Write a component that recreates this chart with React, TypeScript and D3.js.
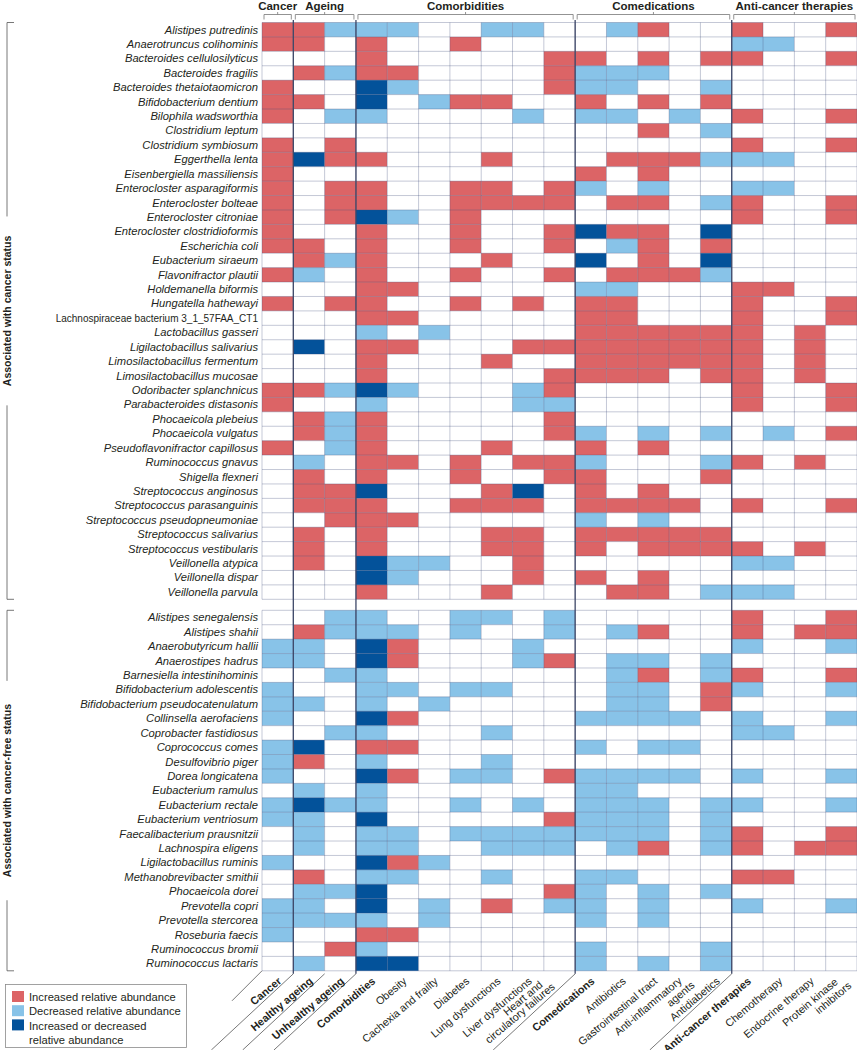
import React from 'react';
import * as d3 from 'd3';

const columns = [
  'Cancer', 'Healthy ageing', 'Unhealthy ageing', 'Comorbidities', 'Obesity',
  'Cachexia and frailty', 'Diabetes', 'Lung dysfunctions', 'Liver dysfunctions',
  'Heart and circulatory failures', 'Comedications', 'Antibiotics',
  'Gastrointestinal tract', 'Anti-inflammatory agents', 'Antidiabetics',
  'Anti-cancer therapies', 'Chemotherapy', 'Endocrine therapy', 'Protein kinase inhibitors',
];
const columnLabelLines: string[][] = [
  ['Cancer'], ['Healthy ageing'], ['Unhealthy ageing'], ['Comorbidities'], ['Obesity'],
  ['Cachexia and frailty'], ['Diabetes'], ['Lung dysfunctions'], ['Liver dysfunctions'],
  ['Heart and', 'circulatory failures'], ['Comedications'], ['Antibiotics'],
  ['Gastrointestinal tract'], ['Anti-inflammatory', 'agents'], ['Antidiabetics'],
  ['Anti-cancer therapies'], ['Chemotherapy'], ['Endocrine therapy'], ['Protein kinase', 'inhibitors'],
];
const boldColumns = ['Cancer', 'Healthy ageing', 'Unhealthy ageing', 'Comorbidities', 'Comedications', 'Anti-cancer therapies'];
const headerGroups = [
  { label: 'Cancer', first: 'Cancer', last: 'Cancer' },
  { label: 'Ageing', first: 'Healthy ageing', last: 'Unhealthy ageing' },
  { label: 'Comorbidities', first: 'Comorbidities', last: 'Heart and circulatory failures' },
  { label: 'Comedications', first: 'Comedications', last: 'Antidiabetics' },
  { label: 'Anti-cancer therapies', first: 'Anti-cancer therapies', last: 'Protein kinase inhibitors' },
];
const dividerColumns = ['Healthy ageing', 'Comorbidities', 'Comedications', 'Anti-cancer therapies'];
const diagonalColumns = ['Healthy ageing', 'Unhealthy ageing', 'Comorbidities', 'Comedications', 'Anti-cancer therapies'];

// codes: 0 = none, r = increased, b = decreased, d = increased or decreased
const cancerSpecies = [
  'Alistipes putredinis', 'Anaerotruncus colihominis', 'Bacteroides cellulosilyticus',
  'Bacteroides fragilis', 'Bacteroides thetaiotaomicron', 'Bifidobacterium dentium',
  'Bilophila wadsworthia', 'Clostridium leptum', 'Clostridium symbiosum', 'Eggerthella lenta',
  'Eisenbergiella massiliensis', 'Enterocloster asparagiformis', 'Enterocloster bolteae',
  'Enterocloster citroniae', 'Enterocloster clostridioformis', 'Escherichia coli',
  'Eubacterium siraeum', 'Flavonifractor plautii', 'Holdemanella biformis', 'Hungatella hathewayi',
  'Lachnospiraceae bacterium 3_1_57FAA_CT1', 'Lactobacillus gasseri', 'Ligilactobacillus salivarius',
  'Limosilactobacillus fermentum', 'Limosilactobacillus mucosae', 'Odoribacter splanchnicus',
  'Parabacteroides distasonis', 'Phocaeicola plebeius', 'Phocaeicola vulgatus',
  'Pseudoflavonifractor capillosus', 'Ruminococcus gnavus', 'Shigella flexneri',
  'Streptococcus anginosus', 'Streptococcus parasanguinis', 'Streptococcus pseudopneumoniae',
  'Streptococcus salivarius', 'Streptococcus vestibularis', 'Veillonella atypica',
  'Veillonella dispar', 'Veillonella parvula',
];
const cancerProfiles = [
  'rrbbb00bb00br00r00r',
  'rr0r00r00000000bb00',
  '000r00000rr0r0rr00r',
  '0rbrr0000rbbb000000',
  'r00db0000rbb00b0000',
  'rr0d0brr00r0r0r0000',
  'r0bb0000b0bb0b0r00r',
  '000000000000r0b0000',
  'r0r000000000000r00r',
  'rdrr000r000rrrbbb00',
  'r000000000r0r000000',
  'r0rr00rr0rb0b00bb00',
  'r0rr00rrrr0rr0br00r',
  'r0rdb0r00000000r00r',
  'r00r00r00rdrr0d0000',
  'rr0r00r00r0br0r0000',
  '0rbr000r00d0r0d0000',
  'rb0r00r00r0rrrb0000',
  '000rr00000bb000rr00',
  'r0rr00r0r0rr000r00r',
  '000rr00000rr000r00r',
  '000b0b0000rrrrrr0r0',
  '0d0rr000rrrrrrrr0r0',
  '000r000r00rrrrrr0r0',
  '000r00000rrrr0rr0r0',
  'rrbdb000br00000r00r',
  'r00b0000bb00000r00r',
  '0rbr00000r000000000',
  '0rbr00000rb0b0b0b0r',
  'r0br000r00r0r000000',
  '0b0rr0r0rrb000br0r0',
  '0r0r00r00rr000r0000',
  '0rrd000rd0r0r000000',
  '0rrr00rrr0rrrr0r00r',
  '00rrr00000b0b000000',
  '0r0r000rr0rrrrr0000',
  '0r0r000rr0r0rrrr0r0',
  '0r0dbb00r000000bb00',
  '000db000r0r0r000000',
  '000r000r000rr0bbb00',
];
const cancerFreeSpecies = [
  'Alistipes senegalensis', 'Alistipes shahii', 'Anaerobutyricum hallii', 'Anaerostipes hadrus',
  'Barnesiella intestinihominis', 'Bifidobacterium adolescentis', 'Bifidobacterium pseudocatenulatum',
  'Collinsella aerofaciens', 'Coprobacter fastidiosus', 'Coprococcus comes', 'Desulfovibrio piger',
  'Dorea longicatena', 'Eubacterium ramulus', 'Eubacterium rectale', 'Eubacterium ventriosum',
  'Faecalibacterium prausnitzii', 'Lachnospira eligens', 'Ligilactobacillus ruminis',
  'Methanobrevibacter smithii', 'Phocaeicola dorei', 'Prevotella copri', 'Prevotella stercorea',
  'Roseburia faecis', 'Ruminococcus bromii', 'Ruminococcus lactaris',
];
const cancerFreeProfiles = [
  '00bb00bb0b00000r00r',
  '0rbbb0b00b0br00r0rr',
  'bb0dr000b000000b00b',
  'bb0dr000br0bb0b0000',
  '00bb0000000br0br00r',
  'b00bb0bb000bb0rb00b',
  'bb0b0b00000bb0r0000',
  'b00dr00000bbbb0b00b',
  '00bb000b0000000bb00',
  'bd0rr00000b0bb00000',
  'br0b000b00000000000',
  'b00dr0bb0rbbbb0b00b',
  '0b0b000000bb0000000',
  'bdbb00b0b0bbb0bb00b',
  'bb0d00000rbbb0b0000',
  '0b0bb0bbbbbbb0br00r',
  '0b0bb00bbb0br0br0rr',
  'b00drb0000000000000',
  '0r0bb00b00bb000rr00',
  '0bbd00000rb0b0b0000',
  'bb0d0b0r0bb0b00b00b',
  'bbbb0b0000b0b000000',
  'b00rr00000000000000',
  '00rb000000b000b0000',
  '0b0dd00000b0b0b0000',
];
const legendItems = [
  { code: 'r', lines: ['Increased relative abundance'] },
  { code: 'b', lines: ['Decreased relative abundance'] },
  { code: 'd', lines: ['Increased or decreased', 'relative abundance'] },
];
const sideLabels = ['Associated with cancer status', 'Associated with cancer-free status'];

const W = 857;
const H = 1050;
const GX0 = 262;
const GX1 = 857;
const ROW_H = 14.42;
const TOP_Y0 = 22.5;
const BOT_Y0 = 610.3;
const TEXT = '#231f20';
const FONT = "'Liberation Sans', Arial, Helvetica, sans-serif";
const LABEL_FS = 10.8;

// placement (along, perpendicular) of the two lines of wrapped column labels, in the rotated frame
const twoLineOffsets: Record<number, [number, number][]> = {
  9: [[-18, -10.5], [-10, -1]],
  13: [[-5, -4.5], [2, 7]],
  18: [[-6, -4], [2, 7.5]],
};

const color = d3.scaleOrdinal<string, string>()
  .domain(['0', 'r', 'b', 'd'])
  .range(['#ffffff', '#dc6466', '#88c3e8', '#03529a']);

export default function App() {
  const x = d3.scaleBand<string>().domain(columns).range([GX0, GX1]);
  const bw = x.bandwidth();
  const yTop = d3.scaleBand<string>().domain(cancerSpecies).range([TOP_Y0, TOP_Y0 + cancerSpecies.length * ROW_H]);
  const yBot = d3.scaleBand<string>().domain(cancerFreeSpecies).range([BOT_Y0, BOT_Y0 + cancerFreeSpecies.length * ROW_H]);
  const groups = [
    { species: cancerSpecies, profiles: cancerProfiles, y: yTop, label: sideLabels[0] },
    { species: cancerFreeSpecies, profiles: cancerFreeProfiles, y: yBot, label: sideLabels[1] },
  ];
  const gridBottom = BOT_Y0 + cancerFreeSpecies.length * ROW_H;

  return (
    <svg width={W} height={H} style={{ position: 'absolute', left: 0, top: 0, background: '#fff' }} fontFamily={FONT}>
      {/* header brackets */}
      {headerGroups.map((g) => {
        const x0 = (x(g.first) as number) + 2;
        const x1 = Math.min((x(g.last) as number) + bw - 2, W - 0.5);
        const cx = (x0 + x1) / 2;
        return (
          <g key={g.label}>
            <text x={cx} y={10} textAnchor="middle" fontWeight="bold" fontSize={11.5} fill={TEXT}>{g.label}</text>
            <path d={`M${x0},19.5V14.5H${x1}V19.5M${cx},14.5V12`} fill="none" stroke="#777" strokeWidth={0.8} />
          </g>
        );
      })}

      {groups.map((grp, gi) => {
        const ys = grp.y;
        const bh = ys.bandwidth();
        const [gy0, gy1] = ys.range();
        const mid = (gy0 + gy1) / 2;
        const half = grp.label.length * 3.05;
        return (
          <g key={gi}>
            {grp.species.map((sp, ri) => {
              const plain = sp.startsWith('Lachnospiraceae');
              return (
                <g key={sp}>
                  {columns.map((c, ci) => (
                    <rect key={c} x={x(c)} y={ys(sp)} width={bw} height={bh} fill={color(grp.profiles[ri][ci])} />
                  ))}
                  <text x={258} y={(ys(sp) as number) + bh / 2 + 3.8} textAnchor="end" fontSize={plain ? 10 : 11.2}
                    fontStyle={plain ? 'normal' : 'italic'} fill={TEXT}>{sp}</text>
                </g>
              );
            })}
            {/* grid lines */}
            {d3.range(grp.species.length + 1).map((i) => (
              <line key={'h' + i} x1={GX0} x2={GX1} y1={gy0 + i * bh} y2={gy0 + i * bh} stroke="#3d4878" strokeOpacity={0.38} strokeWidth={0.8} />
            ))}
            {d3.range(columns.length + 1).map((i) => (
              <line key={'v' + i} x1={GX0 + i * bw} x2={GX0 + i * bw} y1={gy0} y2={gy1} stroke="#3d4878" strokeOpacity={0.3} strokeWidth={1} />
            ))}
            {/* side bracket */}
            <path d={`M14,${gy0}H7V${mid - half - 6}M7,${mid + half + 6}V${gy1}H14`} fill="none" stroke="#555" strokeWidth={0.8} />
            <text transform={`translate(11,${mid}) rotate(-90)`} textAnchor="middle" fontWeight="bold" fontSize={10.5} fill={TEXT}>{grp.label}</text>
          </g>
        );
      })}

      {/* group dividers */}
      {dividerColumns.map((c) => (
        <line key={c} x1={x(c)} x2={x(c)} y1={20} y2={gridBottom + 3} stroke="#3e4868" strokeWidth={1.3} />
      ))}

      {/* diagonal separators */}
      <line x1={GX0} y1={gridBottom} x2={GX0 - 30} y2={gridBottom + 30} stroke="#555" strokeWidth={0.8} />
      {diagonalColumns.map((c) => (
        <line key={c} x1={x(c)} y1={gridBottom + 3} x2={(x(c) as number) - 82} y2={H} stroke="#555" strokeWidth={0.8} />
      ))}

      {/* bottom column labels */}
      {columns.map((c, i) => {
        const cx = (x(c) as number) + bw / 2;
        const lines = columnLabelLines[i];
        const bold = boldColumns.includes(c);
        const offs = twoLineOffsets[i] || [[0, 0]];
        return (
          <g key={c} transform={`translate(${cx + 4.5},${gridBottom + 11.5}) rotate(-40)`}>
            {lines.map((ln, j) => (
              <text key={j} x={offs[j][0]} y={offs[j][1]} textAnchor="end" fontSize={LABEL_FS}
                fontWeight={bold ? 'bold' : 'normal'} fill={TEXT}>{ln}</text>
            ))}
          </g>
        );
      })}

      {/* legend */}
      <rect x={5.5} y={984.5} width={181} height={63} fill="#fff" stroke="#8a8a8a" strokeWidth={0.8} />
      {legendItems.map((it, i) => (
        <g key={it.code}>
          <rect x={12} y={991 + i * 14.2} width={12} height={11} fill={color(it.code)} />
          {it.lines.map((ln, j) => (
            <text key={j} x={29} y={1000.5 + i * 14.5 + j * 14} fontSize={11.2} fill={TEXT}>{ln}</text>
          ))}
        </g>
      ))}
    </svg>
  );
}
